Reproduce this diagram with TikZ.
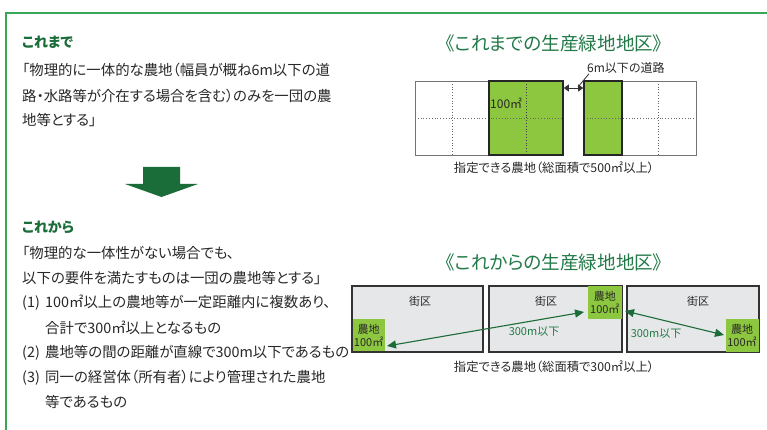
\documentclass[tikz,border=0pt]{standalone}
\usepackage{fontspec}
\setmainfont[RawFeature=+palt]{Noto Sans CJK JP}
\usetikzlibrary{arrows.meta}
\definecolor{framegreen}{RGB}{58,166,88}
\definecolor{dkgreen}{RGB}{26,108,56}
\definecolor{ttlgreen}{RGB}{34,122,72}
\definecolor{farm}{RGB}{141,198,63}
\definecolor{blockgray}{RGB}{230,231,232}
\definecolor{txt}{RGB}{40,40,40}
\newcommand{\itemno}[1]{\makebox[23pt][l]{#1}}
\tikzset{
  body/.style={anchor=west, inner sep=0pt, text=txt, font=\fontsize{14.4}{16}\selectfont},
  head/.style={anchor=west, inner sep=0pt, text=dkgreen, font=\fontsize{14}{16}\selectfont\bfseries},
  title/.style={inner sep=0pt, text=ttlgreen, font=\fontsize{18.6}{20}\selectfont},
  caption/.style={inner sep=0pt, text=txt, font=\fontsize{12.3}{14}\selectfont},
  small/.style={inner sep=0pt, text=txt, font=\fontsize{12}{14}\selectfont},
  block/.style={draw=black!80, line width=1.2pt, fill=blockgray, inner sep=0pt},
  farmbox/.style={fill=farm, inner sep=0pt, align=center, text=txt, font=\fontsize{11}{13.5}\selectfont},
  gaiku/.style={inner sep=0pt, text=txt, font=\fontsize{11}{13}\selectfont},
  dist/.style={inner sep=0pt, text=ttlgreen, font=\fontsize{11}{13}\selectfont},
  distarrow/.style={draw=dkgreen, line width=1.1pt, {Triangle[length=9pt,width=8pt]}-{Triangle[length=9pt,width=8pt]}},
  gridline/.style={dotted, line width=0.8pt, black!60},
}
\begin{document}
\begin{tikzpicture}[x=1pt,y=-1pt]
\useasboundingbox (0,0) rectangle (767,430);
\fill[white] (0,0) rectangle (767,430);
% frame
\draw[framegreen, line width=1.5pt] (6,432) -- (6,13) -- (769,13);

% left texts
\node[head] (h1) at (22,42) {これまで};
\node[body] (t1) at (22,70) {「物理的に一体的な農地（幅員が概ね6m以下の道};
\node[body] (t2) at (22,96) {路・水路等が介在する場合を含む）のみを一団の農};
\node[body] (t3) at (22,120) {地等とする」};

\fill[dkgreen] (143,167) -- (180,167) -- (180,184) -- (198,184) -- (161.5,197) -- (125,184) -- (143,184) -- cycle;

\node[head] (h2) at (22,227) {これから};
\node[body] (u1) at (22,253) {「物理的な一体性がない場合でも、};
\node[body] (u2) at (22,278) {以下の要件を満たすものは一団の農地等とする」};
\node[body] (u3) at (22,303) {\itemno{(1)}100㎡以上の農地等が一定距離内に複数あり、};
\node[body] (u4) at (45,328) {合計で300㎡以上となるもの};
\node[body] (u5) at (22,353) {\itemno{(2)}農地等の間の距離が直線で300m以下であるもの};
\node[body] (u6) at (22,378) {\itemno{(3)}同一の経営体（所有者）により管理された農地};
\node[body] (u7) at (45,402) {等であるもの};

% top right diagram
\node[title] (ttl1) at (554,43) {《これまでの生産緑地地区》};
\fill[farm] (489,81) rectangle (563,155);
\fill[farm] (584,81) rectangle (622,155);
\draw[gridline] (452,81) -- (452,155);
\draw[gridline, black!75] (526,81) -- (526,155);
\draw[gridline] (658,81) -- (658,155);
\draw[gridline] (415,118) -- (563,118);
\draw[gridline] (584,118) -- (696,118);
\draw[black!55, line width=0.8pt] (415,81) rectangle (563,155);
\draw[black!55, line width=0.8pt] (584,81) rectangle (696,155);
\node[inner sep=0pt, minimum width=74pt, minimum height=74pt, draw=black!85, line width=1.6pt] (g1) at (526,118) {};
\node[inner sep=0pt, minimum width=38pt, minimum height=74pt, draw=black!85, line width=1.6pt] (g2) at (603,118) {};
\node[small, anchor=west] (a100) at (490,103) {100㎡};
\coordinate (ra) at (563.8,88);
\coordinate (rb) at (583.2,88);
\draw[black!80, line width=0.9pt, {Triangle[length=5pt,width=7pt]}-{Triangle[length=5pt,width=7pt]}] (ra) -- (rb);
\node[small, anchor=west] (road) at (587,68) {6m以下の道路};
\draw[black!80, line width=0.8pt] (road.south west) ++(2,0) -- (578,87);
\node[caption] (cap1) at (554,168) {指定できる農地（総面積で500㎡以上）};

% bottom right diagram
\node[title] (ttl2) at (554,262) {《これからの生産緑地地区》};
\node[block, minimum width=131pt, minimum height=66pt] (b1) at (417.5,319) {};
\node[block, minimum width=133pt, minimum height=66pt] (b2) at (555.5,319) {};
\node[block, minimum width=132pt, minimum height=66pt] (b3) at (693,319) {};
\node[gaiku] (k1) at (420,301) {街区};
\node[gaiku] (k2) at (546,301) {街区};
\node[gaiku] (k3) at (698,301) {街区};
\node[farmbox, minimum width=32pt, minimum height=32pt] (f1) at (368.6,335.4) {農地\\100㎡};
\node[farmbox, minimum width=34pt, minimum height=33pt] (f2) at (604.8,302.5) {農地\\100㎡};
\node[farmbox, minimum width=33pt, minimum height=33pt] (f3) at (742,335.4) {農地\\100㎡};
\coordinate (p1) at (387,346);
\coordinate (p2) at (584,312);
\coordinate (p3) at (625,311);
\coordinate (p4) at (724,335);
\draw[distarrow] (p1) -- (p2);
\draw[distarrow] (p3) -- (p4);
\node[dist] (d1) at (534,332) {300m以下};
\node[dist] (d2) at (656,334) {300m以下};
\node[caption] (cap2) at (554,367) {指定できる農地（総面積で300㎡以上）};
\end{tikzpicture}
\end{document}
